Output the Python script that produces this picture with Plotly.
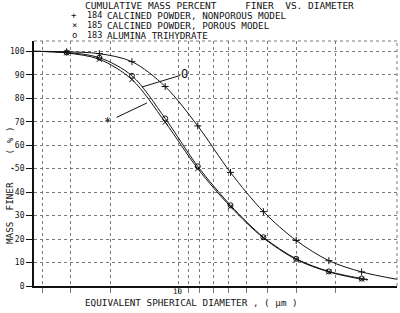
import math
import plotly.graph_objects as go

# ---- data ----
# diameters (µm) at which the measured points are marked
diam_pts = [1.54, 2.15, 3.0, 4.19, 5.86, 8.18, 11.4, 16.0, 22.3, 31.1]
# cumulative mass percent finer at those diameters
s184_pts = [6.0, 10.8, 19.4, 31.7, 48.4, 68.2, 85.0, 95.6, 99.0, 99.8]
s185_pts = [2.9, 6.0, 11.3, 20.5, 33.8, 50.0, 69.8, 88.0, 96.6, 99.3]
s183_pts = [3.2, 6.2, 11.6, 20.8, 34.4, 51.0, 71.4, 89.6, 97.3, 99.5]

# smooth-curve end points (left edge and curve ends)
diam_left = 43.4
diam_end_184 = 1.074
diam_end_lower = 1.444
val_left = 100.0
val_end_184 = 2.85
val_end_185 = 2.6
val_end_183 = 2.8

x_grid_vals = [40, 30, 20, 10, 9, 8, 7, 6, 5, 4, 3, 2]
x_label_val = 10
y_tick_vals = [0, 10, 20, 30, 40, 50, 60, 70, 80, 90, 100]

title_line = "CUMULATIVE MASS PERCENT     FINER  VS. DIAMETER"
legend_syms = ["+", "\u00d7", "o"]
legend_ids = ["184", "185", "183"]
legend_names = ["CALCINED POWDER, NONPOROUS MODEL",
                "CALCINED POWDER, POROUS MODEL",
                "ALUMINA TRIHYDRATE"]
x_title = "EQUIVALENT SPHERICAL DIAMETER , ( \u00b5m )"
y_title = "MASS  FINER  ,  ( % )"

# label callouts: (tip diameter, tip percent) on the curves
o_tip = (14.44, 84.8)
star_tip = (13.72, 78.0)

FONT = "DejaVu Sans Mono"
INK = "#111111"
GRID = "#7a7a7a"

x_range_log = [1.6375, 0.0310]
y_range = [0, 104.4]

fig = go.Figure()


def curve(xp, yp, xend, yend):
    xs = [diam_left] + list(reversed(xp)) + [xend]
    ys = [val_left] + list(reversed(yp)) + [yend]
    return xs, ys


for pts, xend, yend, sym, msize in [
    (s184_pts, diam_end_184, val_end_184, "cross-thin-open", 5),
    (s185_pts, diam_end_lower, val_end_185, "x-thin-open", 5),
    (s183_pts, diam_end_lower, val_end_183, "circle-open", 5),
]:
    xs, ys = curve(diam_pts, pts, xend, yend)
    fig.add_trace(go.Scatter(x=xs, y=ys, mode="lines",
                             line=dict(color=INK, width=1, shape="spline", smoothing=0.9),
                             hoverinfo="skip", showlegend=False))
    fig.add_trace(go.Scatter(x=diam_pts, y=pts, mode="markers",
                             marker=dict(symbol=sym, size=msize, color=INK,
                                         line=dict(color=INK, width=1)),
                             showlegend=False))

fig.update_xaxes(type="log", range=x_range_log, tickvals=x_grid_vals,
                 ticktext=[""] * len(x_grid_vals), automargin=False,
                 showgrid=True, gridcolor=GRID, gridwidth=0.8, griddash="dot",
                 showline=True, linecolor=INK, linewidth=1.5,
                 ticks="outside", ticklen=5, tickcolor=GRID, tickwidth=0.8,
                 zeroline=False)
fig.update_yaxes(range=y_range, tickvals=y_tick_vals, automargin=False,
                 showgrid=True, gridcolor=GRID, gridwidth=0.8, griddash="dot",
                 showline=True, linecolor=INK, linewidth=1.8,
                 ticks="outside", ticklen=6, tickcolor=INK, tickwidth=1,
                 tickfont=dict(family=FONT, size=8, color=INK),
                 zeroline=False)

# dotted top and right frame
fig.add_shape(type="line", xref="paper", yref="paper", x0=0, x1=1, y0=1, y1=1,
              line=dict(color=GRID, width=1, dash="dot"))
fig.add_shape(type="line", xref="paper", yref="paper", x0=1, x1=1, y0=0, y1=1,
              line=dict(color=GRID, width=1, dash="dot"))

W, H = 400, 313
L, R, T, B = 34, 3, 41, 27
pw, ph = W - L - R, H - T - B


def px2paper(px, py):
    return (px - L) / pw, (H - B - py) / ph


ann = []
x0, y0 = px2paper(83, 5)
ann.append(dict(x=x0, y=y0, xref="paper", yref="paper", text=title_line, showarrow=False,
                xanchor="left", yanchor="middle", font=dict(family=FONT, size=9.5, color=INK)))
for i, py in enumerate([15, 25, 35.4]):
    xs_, ys_ = px2paper(74, py)
    ann.append(dict(x=xs_, y=ys_, xref="paper", yref="paper", text=legend_syms[i], showarrow=False,
                    xanchor="center", yanchor="middle", font=dict(family=FONT, size=9, color=INK)))
    xi, _ = px2paper(85, py)
    ann.append(dict(x=xi, y=ys_, xref="paper", yref="paper", text=legend_ids[i], showarrow=False,
                    xanchor="left", yanchor="middle", font=dict(family=FONT, size=8.5, color=INK)))
    xn, _ = px2paper(105, py)
    ann.append(dict(x=xn, y=ys_, xref="paper", yref="paper", text=legend_names[i], showarrow=False,
                    xanchor="left", yanchor="middle", font=dict(family=FONT, size=9.3, color=INK)))

# x tick label "10" and axis titles
_, yl = px2paper(0, 291)
ann.append(dict(x=math.log10(x_label_val), y=yl, xref="x", yref="paper", text=str(x_label_val),
                showarrow=False, xanchor="center", yanchor="middle",
                font=dict(family=FONT, size=7.5, color=INK)))
xt, yt = px2paper(191, 302)
ann.append(dict(x=xt, y=yt, xref="paper", yref="paper", text=x_title, showarrow=False,
                xanchor="center", yanchor="middle", font=dict(family=FONT, size=9.3, color=INK)))
xy, yy = px2paper(9, 185)
ann.append(dict(x=xy, y=yy, xref="paper", yref="paper", text=y_title, showarrow=False,
                textangle=-90, xanchor="center", yanchor="middle",
                font=dict(family=FONT, size=9.3, color=INK)))

# curve call-outs (annotation x on a log axis is given as log10)
ann.append(dict(x=math.log10(o_tip[0]), y=o_tip[1], xref="x", yref="y", text="O", showarrow=True,
                arrowhead=0, arrowwidth=1, arrowcolor=INK, ax=43, ay=-13,
                font=dict(family=FONT, size=12, color=INK)))
ann.append(dict(x=math.log10(star_tip[0]), y=star_tip[1], xref="x", yref="y", text="*", showarrow=True,
                arrowhead=0, arrowwidth=1, arrowcolor=INK, ax=-40, ay=19, startstandoff=5,
                font=dict(family=FONT, size=12, color=INK)))

fig.update_layout(width=W, height=H, margin=dict(l=L, r=R, t=T, b=B),
                  paper_bgcolor="white", plot_bgcolor="white",
                  annotations=ann, showlegend=False)

fig.write_html("out.html")
